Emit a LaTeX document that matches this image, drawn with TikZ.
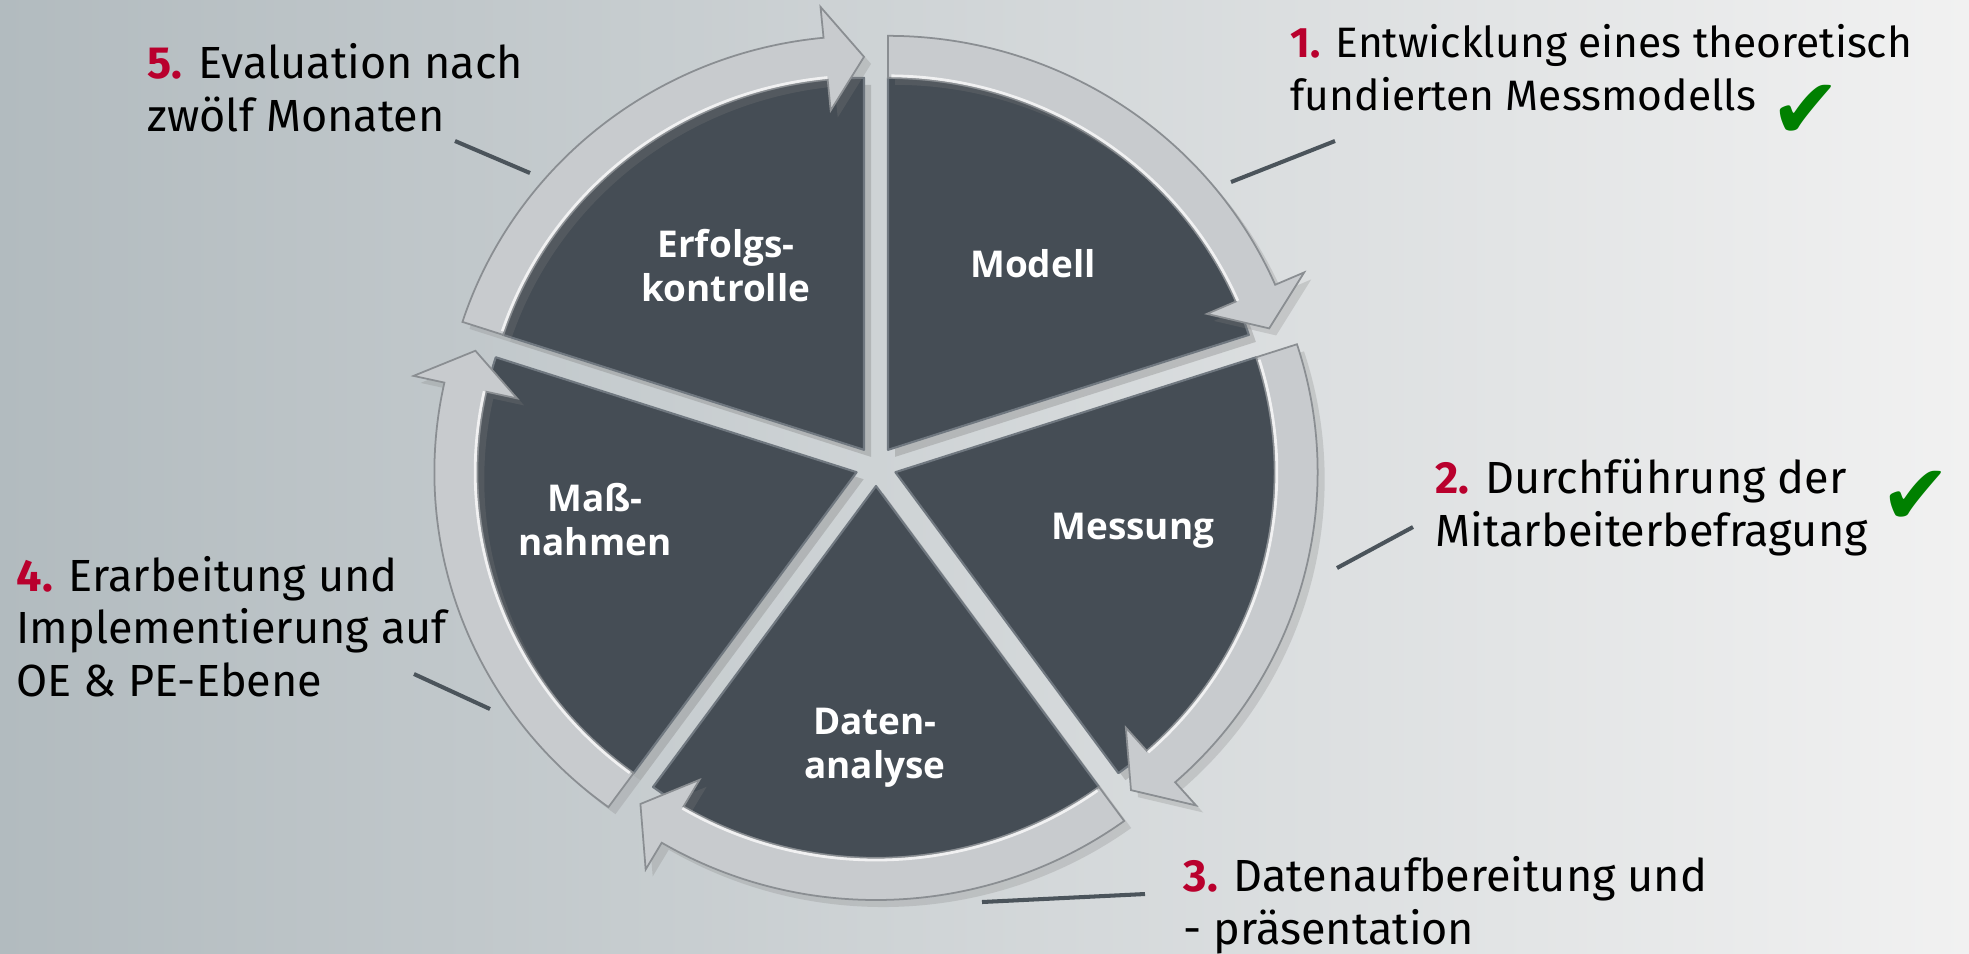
\documentclass[tikz,border=0pt]{standalone}
\usepackage{fontspec}
\setmainfont{Fira Sans}
\newfontfamily\wheelfont{Open Sans}
\newfontfamily\symfont{DejaVu Sans}
\usetikzlibrary{shadows}

\definecolor{sectorfill}{RGB}{69,77,85}
\definecolor{sectoredge}{RGB}{112,120,128}
\definecolor{ringfill}{RGB}{200,203,206}
\definecolor{ringedge}{RGB}{138,142,146}
\definecolor{leadercol}{RGB}{75,84,91}
\definecolor{stepred}{RGB}{185,0,45}
\definecolor{okgreen}{RGB}{0,128,0}
\definecolor{bgleft}{RGB}{178,187,191}
\definecolor{bgmid}{RGB}{214,218,220}
\definecolor{bgright}{RGB}{241,241,241}

\newcommand{\stepno}[1]{\textbf{\textcolor{stepred}{#1}}}
\newcommand{\rin}{372}
\newcommand{\rout}{414}

\begin{document}
\begin{tikzpicture}[x=0.01cm,y=-0.01cm,
  sectorstyle/.style={fill=sectorfill, draw=sectoredge, line width=0.6pt, line join=round,
    drop shadow={opacity=0.35, shadow xshift=2pt, shadow yshift=-2pt}},
  ringstyle/.style={fill=ringfill, draw=ringedge, line width=0.5pt, line join=miter,
    drop shadow={opacity=0.25, shadow xshift=2pt, shadow yshift=-2pt}},
  ringgloss/.style={draw=white, line width=0.8pt, opacity=0.75},
  wheeltext/.style={text=white, font=\wheelfont\bfseries\fontsize{10.5}{12.5}\selectfont, align=center, inner sep=0pt},
  steplabel/.style={font=\fontsize{12.8}{14.8}\selectfont, align=left, anchor=base west, inner sep=0pt},
  checkmark/.style={text=okgreen, font=\symfont\fontsize{24}{24}\selectfont, inner sep=0pt},
  leaderline/.style={draw=leadercol, line width=1.15pt},
  wheelframe/.style={shift={(876,466)}, x=0.0102cm, y=0.01cm}
]
% canvas and background
\path[use as bounding box] (0,0) rectangle (1969,953);
\shade[left color=bgleft, middle color=bgmid, right color=bgright] (0,0) rectangle (1969,953);

% five exploded pie sectors
\foreach \t in {54,-18,-90,-162,126} {
  \begin{scope}[wheelframe, shift={(\t:20)}]
    \path[sectorstyle] (0,0) -- (\t+36:\rin) arc[start angle=\t+36, end angle=\t-36, radius=\rin] -- cycle;
  \end{scope}
}
% curved arrows along the rim, clockwise
\foreach \t in {54,-18,-90,-162,126} {
  \begin{scope}[wheelframe, shift={(\t:20)}]
    \path[ringstyle] (\t+36:\rout) arc[start angle=\t+36, end angle=\t-30.5, radius=\rout]
      -- (\t-30.5:445) -- (\t-36:393) -- (\t-30.5:341) -- (\t-30.5:\rin)
      arc[start angle=\t-30.5, end angle=\t+36, radius=\rin] -- cycle;
    \draw[ringgloss] (\t+35.5:\rin+2) arc[start angle=\t+35.5, end angle=\t-30.5, radius=\rin+2];
  \end{scope}
}

% sector titles
\node[wheeltext] (modell) at (1033,264) {Modell};
\node[wheeltext] (messung) at (1133,531) {Messung};
\node[wheeltext] (analyse) at (875,748) {Daten-\\analyse};
\node[wheeltext] (massnahmen) at (595,520) {Maß-\\nahmen};
\node[wheeltext] (erfolg) at (726,266) {Erfolgs-\\kontrolle};

% step descriptions (anchored at the baseline of their last line)
\node[steplabel, font=\fontsize{12.1}{14.8}\selectfont] (s1) at (1290,110) {\stepno{1.} Entwicklung eines theoretisch\\fundierten Messmodells};
\node[steplabel] (s2) at (1435,546) {\stepno{2.} Durchführung der\\Mitarbeiterbefragung};
\node[steplabel] (s3) at (1183,944) {\stepno{3.} Datenaufbereitung und\\- präsentation};
\node[steplabel] (s4) at (16,696) {\stepno{4.} Erarbeitung und\\Implementierung auf\\OE \& PE-Ebene};
\node[steplabel] (s5) at (147,131) {\stepno{5.} Evaluation nach\\zwölf Monaten};

% completed steps
\node[checkmark] (ok1) at (1806,112) {✔};
\node[checkmark] (ok2) at (1916,498) {✔};

% leader lines
\coordinate (a1) at (1231,182); \coordinate (b1) at (1335,141);
\coordinate (a2) at (1337,568); \coordinate (b2) at (1413,527);
\coordinate (a3) at (982,902);  \coordinate (b3) at (1145,894);
\coordinate (a4) at (414,674);  \coordinate (b4) at (490,709);
\coordinate (a5) at (455,141);  \coordinate (b5) at (530,173);
\foreach \i in {1,...,5} { \draw[leaderline] (a\i) -- (b\i); }
\end{tikzpicture}
\end{document}
